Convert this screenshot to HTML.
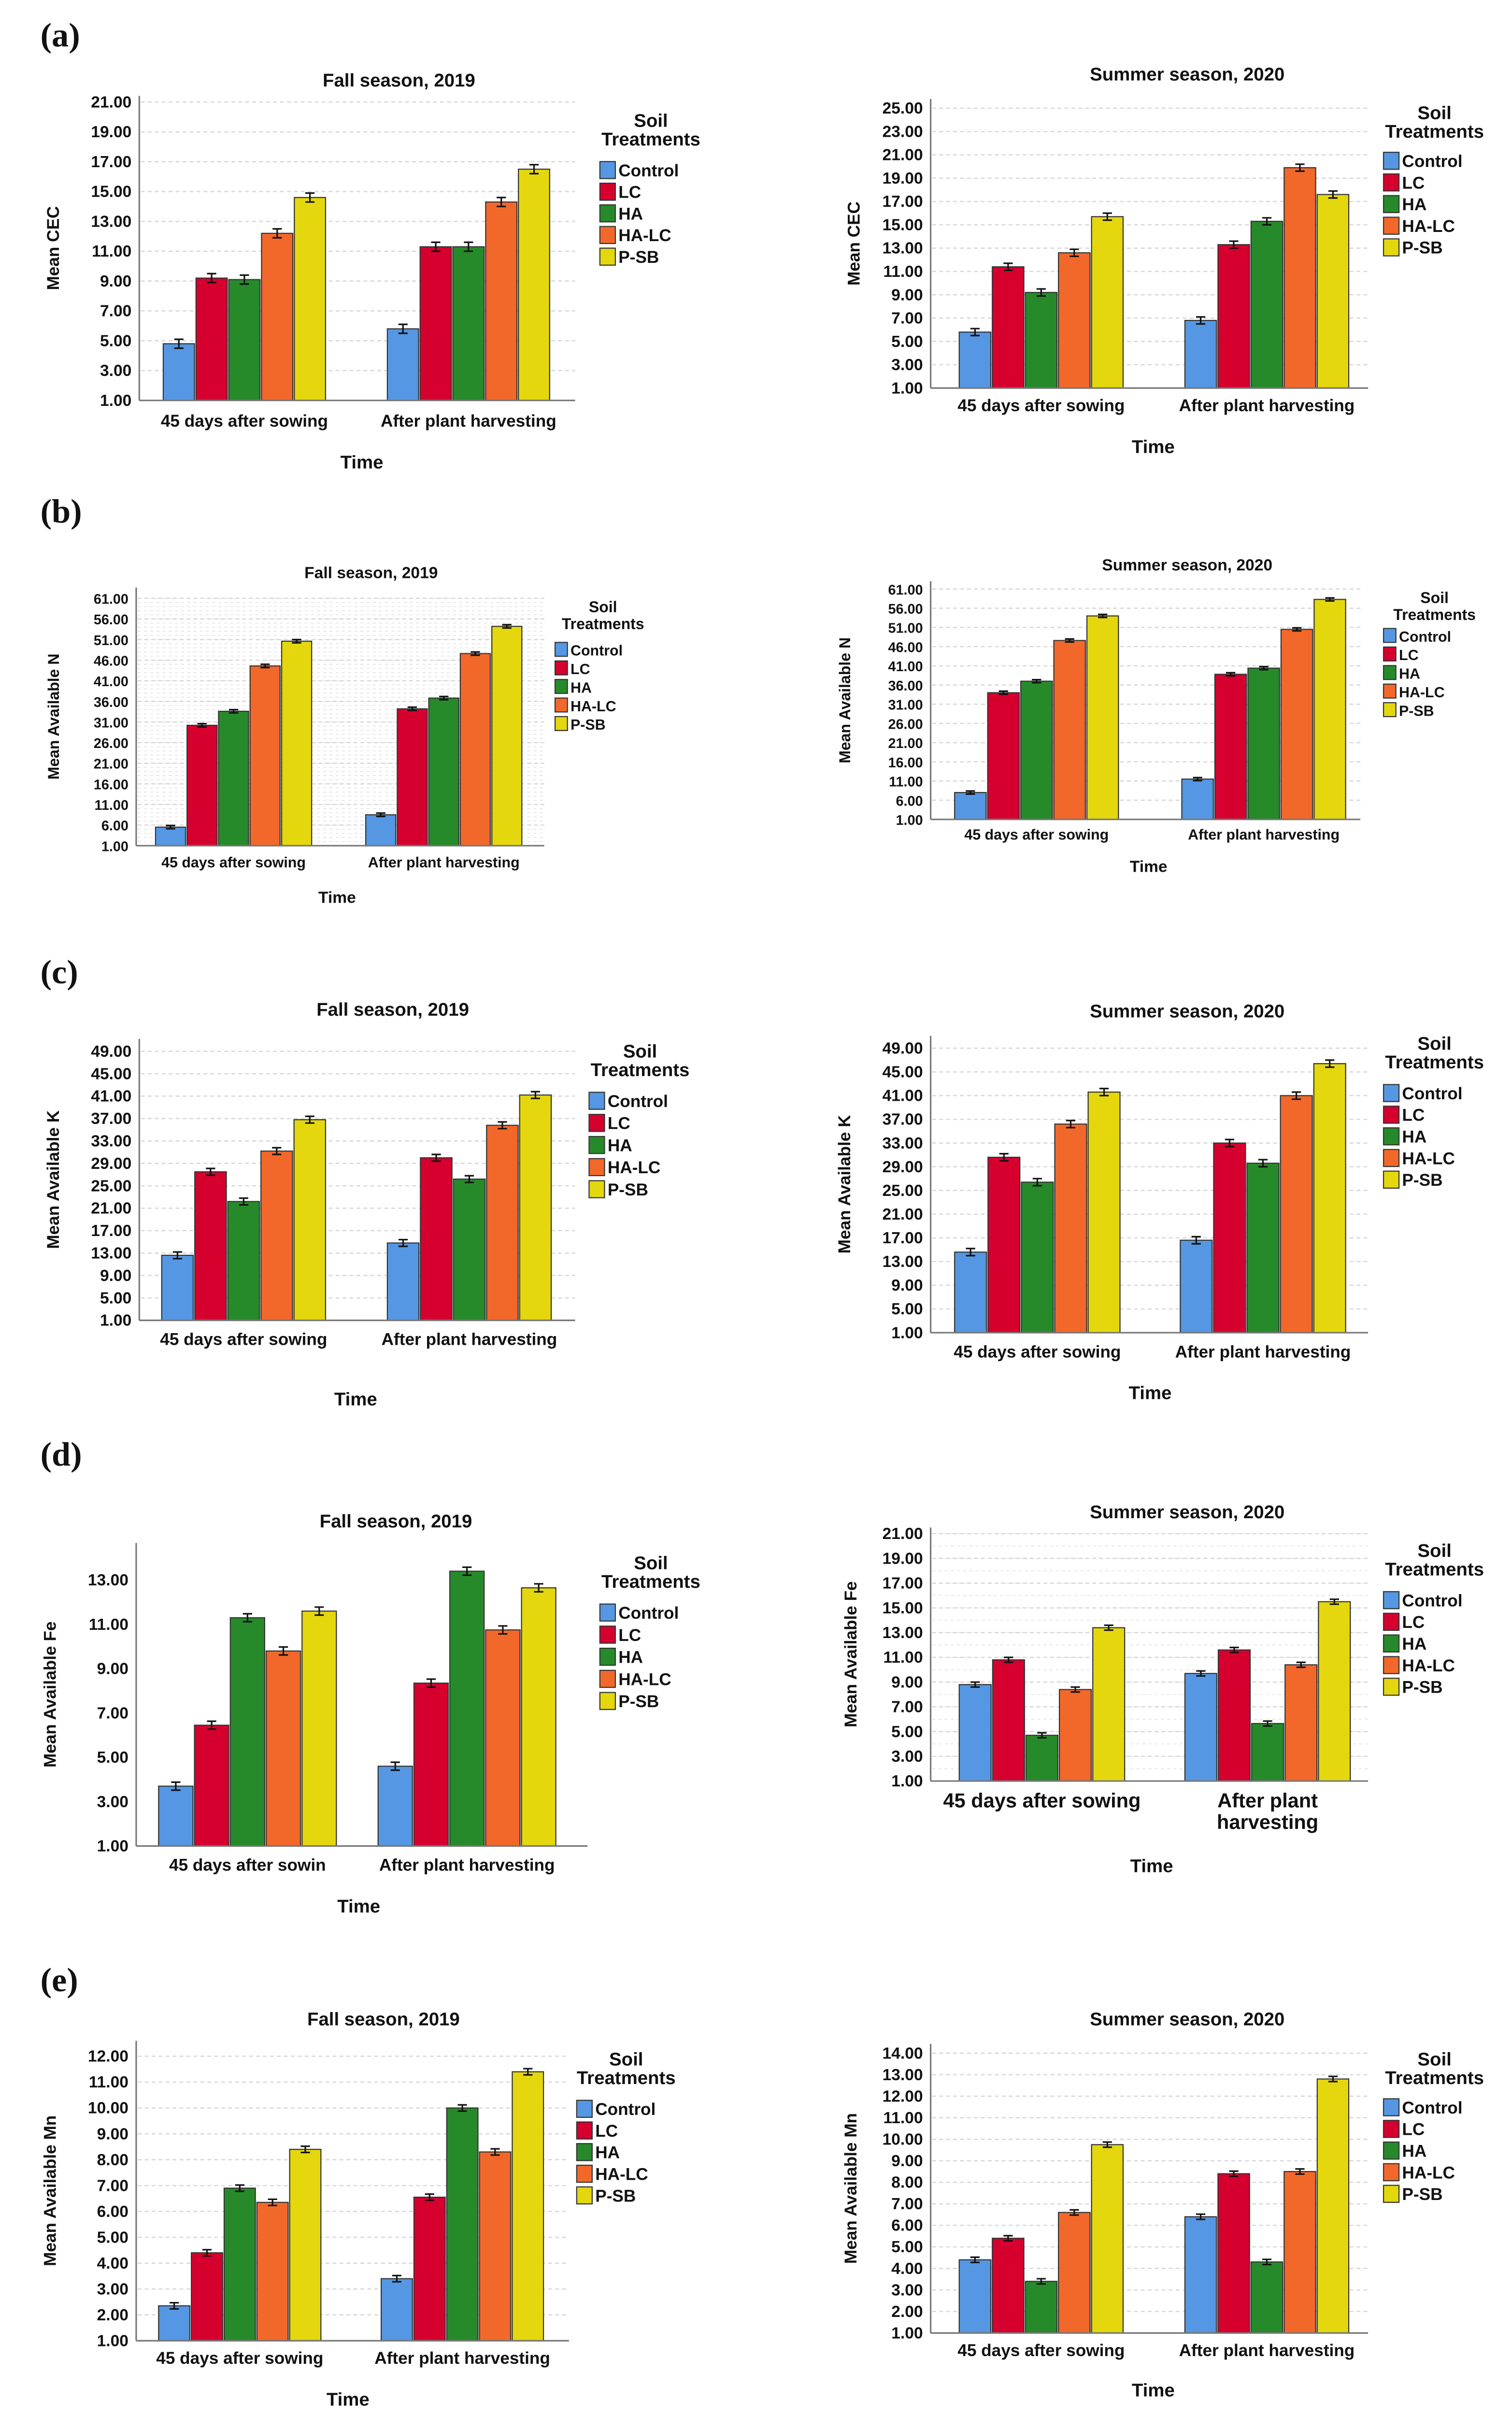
<!DOCTYPE html>
<html><head><meta charset="utf-8"><style>
html,body{margin:0;padding:0;background:#fff;width:3130px;height:5017px;overflow:hidden;}
svg{display:block;position:absolute;left:0;top:0;}
text{font-family:"Liberation Sans",Arial,sans-serif;fill:#111;}
</style></head><body>
<svg id="fig" width="3130" height="5017" viewBox="0 0 978 1568" xmlns="http://www.w3.org/2000/svg"></svg>
<script>
// ---- data ----
const categories = ["45 days after sowing", "After plant harvesting"];
const treatments = ["Control", "LC", "HA", "HA-LC", "P-SB"];
const colors = ["#5597e2", "#d6002f", "#278a2a", "#f2682a", "#e4d70e"];

const cecFall45 = [4.8, 9.2, 9.1, 12.2, 14.6];
const cecFallAPH = [5.8, 11.3, 11.3, 14.3, 16.5];
const cecSum45 = [5.8, 11.4, 9.2, 12.6, 15.7];
const cecSumAPH = [6.8, 13.3, 15.3, 19.9, 17.6];
const cecTicks = [1, 3, 5, 7, 9, 11, 13, 15, 17, 19, 21];
const cecTicksSum = [1, 3, 5, 7, 9, 11, 13, 15, 17, 19, 21, 23, 25];

const nFall45 = [5.5, 30.2, 33.6, 44.6, 50.6];
const nFallAPH = [8.5, 34.2, 36.8, 47.6, 54.2];
const nSum45 = [8.0, 34.0, 37.0, 47.6, 54.0];
const nSumAPH = [11.5, 38.8, 40.4, 50.5, 58.3];
const nTicks = [1, 6, 11, 16, 21, 26, 31, 36, 41, 46, 51, 56, 61];

const kFall45 = [12.6, 27.5, 22.2, 31.2, 36.8];
const kFallAPH = [14.8, 30.0, 26.2, 35.8, 41.2];
const kSum45 = [14.6, 30.6, 26.4, 36.2, 41.6];
const kSumAPH = [16.6, 33.0, 29.6, 41.0, 46.4];
const kTicks = [1, 5, 9, 13, 17, 21, 25, 29, 33, 37, 41, 45, 49];

const feFall45 = [3.7, 6.45, 11.3, 9.8, 11.6];
const feFallAPH = [4.6, 8.35, 13.4, 10.75, 12.65];
const feSum45 = [8.8, 10.8, 4.7, 8.4, 13.4];
const feSumAPH = [9.7, 11.6, 5.65, 10.4, 15.5];
const feTicksFall = [1, 3, 5, 7, 9, 11, 13];
const feTicksSum = [1, 3, 5, 7, 9, 11, 13, 15, 17, 19, 21];

const mnFall45 = [2.35, 4.4, 6.9, 6.35, 8.4];
const mnFallAPH = [3.4, 6.55, 10.0, 8.3, 11.4];
const mnSum45 = [4.4, 5.4, 3.4, 6.6, 9.75];
const mnSumAPH = [6.4, 8.4, 4.3, 8.5, 12.8];
const mnTicksFall = [1, 2, 3, 4, 5, 6, 7, 8, 9, 10, 11, 12];
const mnTicksSum = [1, 2, 3, 4, 5, 6, 7, 8, 9, 10, 11, 12, 13, 14];

// ---- layout configs ----
const NS = "http://www.w3.org/2000/svg";
const svg = document.getElementById("fig");
function el(tag, attrs, parent){const e=document.createElementNS(NS,tag);for(const k in attrs)e.setAttribute(k,attrs[k]);(parent||svg).appendChild(e);return e;}

const panels = [
 {id:"a-fall",title:"Fall season, 2019",tx:258,ty:52,ax:90,yTop:66,yBot:259,right:372,g0:105,g1:250,gw:106,vals:[cecFall45,cecFallAPH],ticks:cecTicks,topVal:21,axisTop:62,err:0.3,ylab:"Mean CEC",ylx:38,cy:272,timeX:234,timeY:299,lx:393,ly0:110,ld:14,soilY:78,legX:421,minor:null},
 {id:"a-summer",title:"Summer season, 2020",tx:768,ty:48,ax:602,yTop:70,yBot:251,right:885,g0:620,g1:766,gw:107,vals:[cecSum45,cecSumAPH],ticks:cecTicksSum,topVal:25,axisTop:64,err:0.3,ylab:"Mean CEC",ylx:556,cy:262,timeX:746,timeY:289,lx:900,ly0:104,ld:14,soilY:73,legX:928,minor:null},
 {id:"b-fall",title:"Fall season, 2019",tx:240,ty:370,ax:88,yTop:387,yBot:547,right:352,g0:100,g1:236,gw:102,vals:[nFall45,nFallAPH],ticks:nTicks,topVal:61,axisTop:380,err:0.4,ylab:"Mean Available N",ylx:38,cy:557,timeX:218,timeY:580,lx:364,ly0:420,ld:12,soilY:392,legX:390,minor:1,small:true},
 {id:"b-summer",title:"Summer season, 2020",tx:768,ty:365,ax:602,yTop:381,yBot:530,right:880,g0:617,g1:764,gw:107,vals:[nSum45,nSumAPH],ticks:nTicks,topVal:61,axisTop:376,err:0.4,ylab:"Mean Available N",ylx:550,cy:539,timeX:743,timeY:560,lx:900,ly0:411,ld:12,soilY:386,legX:928,minor:null,small:true},
 {id:"c-fall",title:"Fall season, 2019",tx:254,ty:653,ax:90,yTop:680,yBot:854,right:372,g0:104,g1:250,gw:107,vals:[kFall45,kFallAPH],ticks:kTicks,topVal:49,axisTop:672,err:0.6,ylab:"Mean Available K",ylx:38,cy:866,timeX:230,timeY:905,lx:386,ly0:712,ld:14.3,soilY:680,legX:414,minor:null},
 {id:"c-summer",title:"Summer season, 2020",tx:768,ty:654,ax:602,yTop:678,yBot:862,right:885,g0:617,g1:763,gw:108,vals:[kSum45,kSumAPH],ticks:kTicks,topVal:49,axisTop:670,err:0.6,ylab:"Mean Available K",ylx:550,cy:874,timeX:744,timeY:901,lx:900,ly0:707,ld:14,soilY:675,legX:928,minor:null},
 {id:"d-fall",title:"Fall season, 2019",tx:256,ty:984,ax:88,yTop:1022,yBot:1194,right:380,g0:102,g1:244,gw:116,vals:[feFall45,feFallAPH],ticks:feTicksFall,topVal:13,axisTop:998,err:0.18,ylab:"Mean Available Fe",ylx:36,cy:1206,catLabels:["45 days after sowin","After plant harvesting"],timeX:232,timeY:1233,lx:393,ly0:1043,ld:14.3,soilY:1011,legX:421,minor:null,noGrid:true},
 {id:"d-summer",title:"Summer season, 2020",tx:768,ty:978,ax:602,yTop:992,yBot:1152,right:885,g0:620,g1:766,gw:108,vals:[feSum45,feSumAPH],ticks:feTicksSum,topVal:21,axisTop:988,err:0.2,ylab:"Mean Available Fe",ylx:554,cy:1165,big:true,timeX:745,timeY:1207,lx:900,ly0:1035,ld:14,soilY:1003,legX:928,minor:1},
 {id:"e-fall",title:"Fall season, 2019",tx:248,ty:1306,ax:88,yTop:1330,yBot:1514,right:368,g0:102,g1:246,gw:106,vals:[mnFall45,mnFallAPH],ticks:mnTicksFall,topVal:12,axisTop:1320,err:0.12,ylab:"Mean Available Mn",ylx:36,cy:1525,timeX:225,timeY:1552,lx:378,ly0:1364,ld:14,soilY:1332,legX:405,minor:null},
 {id:"e-summer",title:"Summer season, 2020",tx:768,ty:1306,ax:602,yTop:1328,yBot:1509,right:885,g0:620,g1:766,gw:107,vals:[mnSum45,mnSumAPH],ticks:mnTicksSum,topVal:14,axisTop:1322,err:0.12,ylab:"Mean Available Mn",ylx:554,cy:1520,timeX:746,timeY:1546,lx:900,ly0:1363,ld:14,soilY:1332,legX:928,minor:null}
];

const letters = [["(a)",22],["(b)",330],["(c)",628],["(d)",940],["(e)",1280]];
letters.forEach(l=>{
  const t=el("text",{x:26,y:l[1]+8,"font-size":22,"font-weight":"bold"});
  t.style.fontFamily='"Liberation Serif",serif';
  t.textContent=l[0];
  
  
});

panels.forEach(p=>{
  const g=el("g",{});
  
  
  const minV=p.ticks[0];
  const y=v=>p.yBot-(v-minV)/(p.topVal-minV)*(p.yBot-p.yTop);
  const fs=p.small?9:10.5;
  if(p.minor){
    for(let v=minV;v<=p.topVal;v+=p.minor){
      const ln=el("line",{x1:p.ax+1,x2:p.right,y1:y(v),y2:y(v),stroke:"#e6e6e6","stroke-width":0.6,"stroke-dasharray":"2,2"},g);
      
      
    }
  }
  p.ticks.forEach(v=>{
    if(!p.noGrid && v!==minV){
      const ln=el("line",{x1:p.ax+1,x2:p.right,y1:y(v),y2:y(v),stroke:"#d8d8d8","stroke-width":0.8,"stroke-dasharray":"2.5,2"},g);
      
      
    }
    const t=el("text",{x:p.ax-5,y:y(v)+3.5,"text-anchor":"end","font-size":fs,"font-weight":"bold"},g);
    t.textContent=v.toFixed(2);
    
    
  });
  const ya=el("line",{x1:p.ax,x2:p.ax,y1:p.axisTop,y2:p.yBot,stroke:"#777","stroke-width":1},g);
  
  
  const starts=[p.g0,p.g1];
  const bw=p.gw/5;
  p.vals.forEach((arr,ci)=>{
    arr.forEach((v,ti)=>{
      const x=starts[ci]+ti*bw;
      const r=el("rect",{x:x+0.5,y:y(v),width:bw-1,height:p.yBot-y(v),fill:colors[ti],stroke:"#333","stroke-width":0.7},g);
      
      
      const cx=x+bw/2, e1=y(v+p.err), e2=y(v-p.err);
      const eb=el("path",{d:`M${cx},${e1}V${e2}M${cx-3},${e1}H${cx+3}M${cx-3},${e2}H${cx+3}`,stroke:"#111","stroke-width":1,fill:"none"},g);
      
      
    });
  });
  const xa=el("line",{x1:p.ax,x2:p.right,y1:p.yBot,y2:p.yBot,stroke:"#777","stroke-width":1},g);
  
  
  const labs=p.catLabels||categories;
  labs.forEach((c,ci)=>{
    const cx=starts[ci]+p.gw/2;
    if(p.big){
      const lines=ci===0?[c]:["After plant","harvesting"];
      lines.forEach((s,li)=>{
        const t=el("text",{x:cx,y:p.cy+4+li*14,"text-anchor":"middle","font-size":13,"font-weight":"bold"},g);
        t.textContent=s;
        
        
      });
    } else {
      const t=el("text",{x:cx,y:p.cy+4,"text-anchor":"middle","font-size":p.small?9.5:11,"font-weight":"bold"},g);
      t.textContent=c;
      
      
    }
  });
  const tt=el("text",{x:p.tx,y:p.ty+4,"text-anchor":"middle","font-size":p.small?10.5:12,"font-weight":"bold"},g);
  tt.textContent=p.title;
  
  
  const xt=el("text",{x:p.timeX,y:p.timeY+4,"text-anchor":"middle","font-size":p.small?10.5:12,"font-weight":"bold"},g);
  xt.textContent="Time";
  
  
  const cyl=(p.axisTop+p.yBot)/2;
  const yt=el("text",{x:p.ylx,y:cyl,"text-anchor":"middle","font-size":p.small?10:11,"font-weight":"bold",transform:`rotate(-90 ${p.ylx} ${cyl})`},g);
  yt.textContent=p.ylab;
  
  
  const lg=el("g",{},g);
  
  
  const lfs=p.small?10:12;
  const s1=el("text",{x:p.legX,y:p.soilY+4,"text-anchor":"middle","font-size":lfs,"font-weight":"bold"},lg);
  s1.textContent="Soil";
  
  
  const s2=el("text",{x:p.legX,y:p.soilY+4+(p.small?11:12),"text-anchor":"middle","font-size":lfs,"font-weight":"bold"},lg);
  s2.textContent="Treatments";
  
  
  treatments.forEach((tr,i)=>{
    const yy=p.ly0+i*p.ld;
    const sz=p.small?9:11;
    const sw=el("rect",{x:p.lx-5,y:yy-sz/2,width:sz-1,height:sz,fill:colors[i],stroke:"#333","stroke-width":0.7},lg);
    
    
    const t=el("text",{x:p.lx+sz-4,y:yy+4,"font-size":p.small?9.5:11,"font-weight":"bold"},lg);
    t.textContent=tr;
    
    
  });
});
</script>
</body></html>
